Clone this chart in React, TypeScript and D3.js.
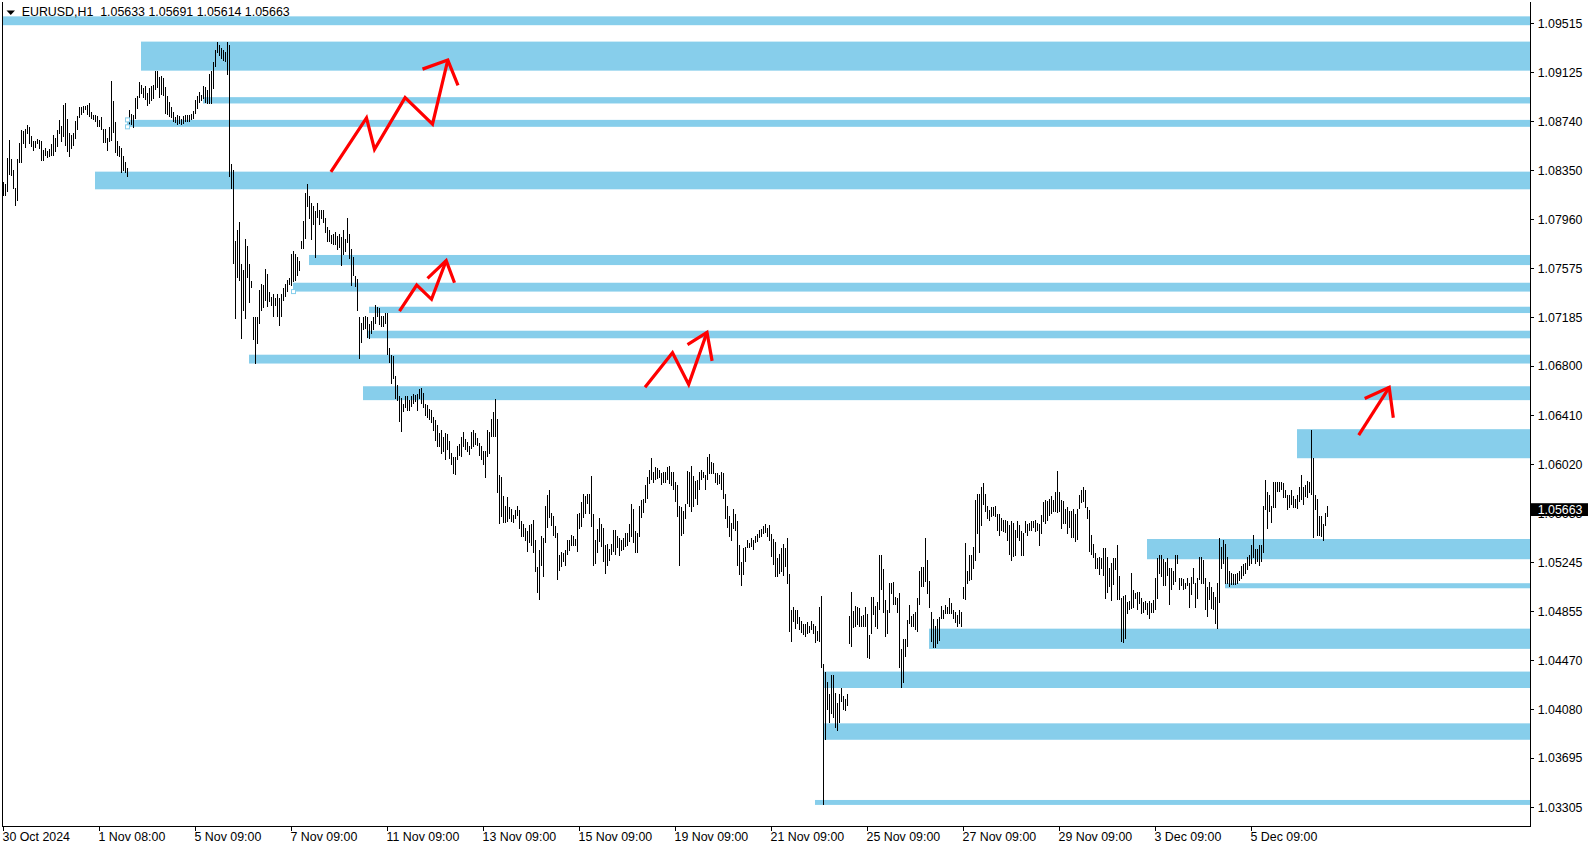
import React from "react";
import * as d3 from "d3";

const W = 1594;
const H = 850;

// Hourly bars, values in pips above 1.0000 (price = 1 + pips / 10000)
const barHighs = [
  826,824,845,859,844,835,821,844,857,867,
  866,868,871,869,862,858,858,860,859,858,
  851,853,850,852,856,863,861,867,875,870,
  887,888,876,865,863,865,874,878,885,885,
  886,886,887,888,881,879,879,878,875,877,
  868,868,861,869,906,890,873,858,854,853,
  846,842,837,883,880,879,892,894,905,903,
  900,902,896,900,902,903,914,914,909,910,
  908,901,894,889,885,881,877,879,878,876,
  878,879,879,879,880,882,891,894,897,895,
  902,901,899,911,914,921,930,937,934,932,
  930,929,937,934,840,835,779,788,794,761,
  756,781,775,761,747,719,719,719,740,745,
  744,757,753,739,735,737,734,737,734,737,
  742,745,748,750,769,771,769,766,763,779,
  795,817,824,815,809,807,803,809,804,804,
  804,797,790,788,784,785,786,783,785,782,
  788,781,797,785,773,766,751,749,719,714,
  719,720,719,713,716,719,728,727,726,720,
  720,722,722,694,689,688,672,665,656,655,
  650,656,656,653,656,658,657,658,662,663,
  659,650,649,646,645,640,637,633,627,629,
  624,627,626,621,611,608,608,617,618,624,
  628,622,620,617,628,629,627,623,619,617,
  613,613,629,628,638,644,654,638,594,592,
  577,569,576,568,567,562,566,569,566,557,
  555,552,549,554,555,558,542,521,534,545,
  544,569,578,582,564,561,553,548,530,533,
  532,534,542,542,546,545,543,563,564,572,
  579,577,579,579,593,563,542,551,560,555,
  552,538,539,535,539,550,550,545,544,542,
  544,548,548,555,571,567,549,548,569,574,
  575,586,592,598,607,596,600,599,598,595,
  596,596,600,601,596,596,588,586,569,568,
  565,571,597,596,601,593,589,590,596,598,
  596,594,608,610,604,603,595,595,594,596,
  595,579,569,561,556,567,563,557,538,525,
  536,537,542,540,544,542,545,547,550,551,
  553,555,552,554,547,543,541,528,531,536,
  539,536,544,515,487,489,487,487,481,478,
  476,476,477,474,478,476,474,470,489,498,
  444,438,430,420,435,435,421,413,420,425,
  419,416,420,482,501,486,490,489,488,482,
  483,489,484,467,497,497,490,493,530,530,
  519,495,487,508,508,509,497,496,500,456,
  464,464,479,491,482,484,485,496,518,521,
  521,544,526,510,485,480,474,480,481,490,
  487,491,489,496,492,487,485,483,487,485,
  505,540,518,530,530,537,574,579,579,584,
  587,579,569,566,568,568,569,563,563,560,
  558,558,557,554,557,556,550,557,554,549,
  548,557,555,556,557,557,558,556,555,562,
  572,574,573,575,577,574,580,597,580,574,
  573,567,568,565,565,567,563,567,578,582,
  584,582,568,566,546,539,532,528,529,528,
  536,536,529,520,524,528,528,538,514,496,
  498,499,493,494,516,503,500,501,501,496,
  493,494,492,494,492,495,512,528,530,530,
  527,525,528,520,520,518,530,530,512,512,
  511,508,512,508,513,520,508,512,529,529,
  526,512,505,509,505,501,497,508,544,537,
  542,539,529,518,516,515,515,516,518,522,
  523,524,529,530,538,546,535,535,538,538,
  569,590,580,578,569,588,588,588,588,588,
  587,582,578,578,582,577,575,578,584,594,
  584,586,589,588,629,607,578,575,561,561,
  555,564,569,
];

const barLows = [
  815,815,818,832,831,821,807,811,841,841,
  856,853,864,856,854,851,853,856,852,843,
  843,847,845,846,847,847,850,854,864,858,
  862,855,850,846,852,855,860,867,877,879,
  881,883,879,878,876,875,874,870,870,867,
  857,857,851,858,859,865,849,847,846,833,
  835,833,830,870,871,869,876,884,893,896,
  893,891,886,888,890,892,899,901,893,895,
  894,880,879,878,877,874,873,871,872,871,
  872,874,874,874,875,876,880,884,889,890,
  892,889,888,888,888,900,917,928,926,924,
  922,921,911,830,821,761,718,750,748,702,
  724,718,750,730,742,701,682,698,714,724,
  726,732,727,731,728,719,728,719,712,719,
  732,735,739,745,744,747,748,752,756,773,
  773,781,806,797,780,792,766,798,792,797,
  794,786,779,779,777,776,776,772,774,760,
  768,771,778,765,744,752,743,724,686,699,
  709,710,703,702,706,709,714,719,713,711,
  711,714,689,683,666,670,654,653,636,628,
  644,647,645,645,648,650,652,645,654,650,
  647,641,639,638,635,629,621,616,616,611,
  612,606,614,607,602,595,594,606,609,608,
  616,614,612,610,615,616,618,617,609,606,
  602,592,608,611,624,624,624,580,555,561,
  556,556,557,559,557,556,559,562,551,545,
  545,542,533,540,538,532,517,501,495,522,
  513,540,552,560,554,546,544,511,518,521,
  525,522,531,534,538,538,538,533,551,553,
  560,563,571,563,553,522,524,532,541,537,
  525,516,522,526,531,533,531,536,530,534,
  535,537,538,541,545,540,532,532,545,560,
  564,572,575,587,590,588,590,591,592,586,
  588,588,590,587,585,582,573,561,522,546,
  547,559,571,569,565,569,575,570,582,590,
  592,582,590,595,595,595,588,586,587,582,
  575,559,552,545,542,551,550,522,515,506,
  515,525,536,536,537,535,540,541,544,545,
  547,548,545,542,529,523,513,513,516,517,
  514,521,508,470,462,478,472,476,471,469,
  467,466,468,469,471,468,461,463,462,441,
  333,384,408,398,405,402,394,391,398,414,
  408,407,411,460,458,473,474,475,474,474,
  474,474,449,448,468,483,474,472,487,503,
  485,466,468,485,500,491,491,485,441,425,
  429,450,458,476,474,474,471,470,491,505,
  505,509,500,489,462,457,457,460,463,480,
  480,484,484,484,484,480,477,474,476,474,
  496,495,508,510,511,520,526,547,532,554,
  570,565,559,558,561,562,561,550,546,550,
  549,548,542,531,526,529,530,544,542,530,
  530,548,546,550,550,552,549,550,538,547,
  557,555,558,562,563,565,565,564,565,551,
  555,555,547,552,544,544,541,543,567,572,
  573,568,559,533,531,528,520,520,515,520,
  514,496,501,505,494,507,519,495,495,462,
  461,464,484,487,488,489,496,487,492,484,
  485,487,483,480,485,485,487,496,516,513,
  506,506,514,491,503,507,509,524,503,506,
  503,504,506,489,499,508,489,496,511,508,
  508,487,482,495,488,487,476,472,493,520,
  524,508,508,505,507,507,507,508,510,512,
  514,516,519,522,524,528,524,525,522,525,
  532,566,551,565,556,568,568,581,581,582,
  576,576,566,568,570,568,568,567,573,574,
  570,577,576,580,578,544,566,546,546,545,
  542,554,561,
];

const symbolTitle = "EURUSD,H1";
const lastBarOHLC = [1.05633, 1.05691, 1.05614, 1.05663];
const lastPrice = 1.05663;

const yTickValues = [
  1.09515, 1.09125, 1.0874, 1.0835, 1.0796, 1.07575, 1.07185, 1.068, 1.0641,
  1.0602, 1.05635, 1.05245, 1.04855, 1.0447, 1.0408, 1.03695, 1.03305,
];

const xTickBars = [0, 48, 96, 144, 192, 240, 288, 336, 384, 432, 480, 528, 576, 624];
const xTickLabels = [
  "30 Oct 2024", "1 Nov 08:00", "5 Nov 09:00", "7 Nov 09:00", "11 Nov 09:00",
  "13 Nov 09:00", "15 Nov 09:00", "19 Nov 09:00", "21 Nov 09:00", "25 Nov 09:00",
  "27 Nov 09:00", "29 Nov 09:00", "3 Dec 09:00", "5 Dec 09:00",
];

// Supply / demand zones (start bar, top and bottom in pips above 1.0000)
const zoneStartBars = [0, 69, 100, 62, 46, 153, 145, 183, 182, 123, 180, 647, 572, 611, 463, 410, 410, 406];
const zoneTopPips = [957, 937, 893, 875, 834, 768, 746, 727, 708, 689, 664, 630, 543, 508, 472, 438, 397, 336.3];
const zoneBottomPips = [950, 914, 888, 869.5, 820, 760, 739, 722, 702, 682, 653, 607, 527, 504, 456, 425, 384, 332.4];

// Anchor squares: zone index and corner
const anchorZones = [3, 3, 6];
const anchorCorners = ["top", "bottom", "bottom"];

// Red arrows: polyline [bar, pips] and arrow head barbs
const arrow1 = [[163.7, 833.9], [181.5, 876.6], [185.5, 851.6], [200.8, 892.6], [214.5, 871.7], [222.15, 922.4]];
const arrow1Head = [[209.5, 915.2], [222.15, 922.4], [227.25, 902.3]];
const arrow2 = [[198, 723.6], [206.6, 744.2], [214, 732.9], [221.35, 763.5]];
const arrow2Head = [[212, 749.5], [221.35, 763.5], [225.5, 746.0]];
const arrow3 = [[320.75, 663.2], [334.5, 690.5], [342.6, 665.5], [351.75, 706.7]];
const arrow3Head = [[342, 697.0], [351.75, 706.7], [354.3, 684.1]];
const arrow4 = [[677.6, 625.3], [692.85, 663.2]];
const arrow4Head = [[680.6, 654.3], [692.85, 663.2], [694.9, 639.0]];

const FONT = "'Liberation Sans', Arial, sans-serif";
const ZONE = "#87CEEB";
const FS = 12.4;

export default function App() {
  const n = barHighs.length;
  const plotRight = 1530.5;
  const plotBottom = 826.5;
  const x = d3.scaleLinear().domain([0, n - 1]).range([3.5, 3.5 + 2 * (n - 1)]);
  const y = d3.scaleLinear().domain([1.03305, 1.09515]).range([807.3, 23.3]);
  const pp = (pips: number) => 1 + pips / 10000;

  const line = d3
    .line<number[]>()
    .x((d) => x(d[0]))
    .y((d) => y(pp(d[1])));

  const arrows = [
    [arrow1, arrow1Head],
    [arrow2, arrow2Head],
    [arrow3, arrow3Head],
    [arrow4, arrow4Head],
  ];

  const titleText = `${symbolTitle}  ${lastBarOHLC.map((v) => v.toFixed(5)).join(" ")}`;
  const lastY = y(lastPrice);

  return (
    <svg
      width={W}
      height={H}
      style={{ position: "absolute", left: 0, top: 0, background: "#fff" }}
      fontFamily={FONT}
    >
      <rect x={0} y={0} width={W} height={H} fill="#fff" />
      <defs>
        <clipPath id="plot">
          <rect x={2.5} y={0} width={plotRight - 2.5} height={plotBottom} />
        </clipPath>
      </defs>

      {/* zones */}
      <g clipPath="url(#plot)">
        {zoneStartBars.map((s, i) => {
          const x0 = x(s) - 0.5;
          const yt = y(pp(zoneTopPips[i]));
          const yb = y(pp(zoneBottomPips[i]));
          return <rect key={i} x={x0} y={yt} width={plotRight - x0} height={yb - yt} fill={ZONE} />;
        })}
      </g>

      {/* bars */}
      <g stroke="#000" strokeWidth={1} shapeRendering="crispEdges">
        {barHighs.map((h, i) => (
          <line key={i} x1={x(i)} x2={x(i)} y1={y(pp(h))} y2={y(pp(barLows[i])) + 0.5} />
        ))}
      </g>

      {/* anchors */}
      {anchorZones.map((z, i) => {
        const cx = x(zoneStartBars[z]);
        const cy = y(pp(anchorCorners[i] === "top" ? zoneTopPips[z] : zoneBottomPips[z]));
        return (
          <rect key={i} x={cx - 2} y={cy - 2} width={4} height={4} fill="#fff" stroke={ZONE} strokeWidth={1} />
        );
      })}

      {/* red arrows */}
      <g fill="none" stroke="#ff0000" strokeWidth={3.2} strokeLinejoin="miter" strokeLinecap="butt">
        {arrows.map(([body, head], i) => (
          <g key={i}>
            <path d={line(body as number[][]) || ""} />
            <path d={line(head as number[][]) || ""} />
          </g>
        ))}
      </g>

      {/* frame */}
      <g stroke="#000" strokeWidth={1} shapeRendering="crispEdges">
        <line x1={2.5} x2={2.5} y1={2} y2={plotBottom} />
        <line x1={plotRight} x2={plotRight} y1={2} y2={plotBottom} />
        <line x1={2.5} x2={plotRight} y1={plotBottom} y2={plotBottom} />
      </g>

      {/* y axis */}
      <g fontSize={FS} fill="#000">
        {yTickValues.map((v, i) => {
          const ty = y(v);
          return (
            <g key={i}>
              <line x1={plotRight} x2={plotRight + 3.5} y1={ty} y2={ty} stroke="#000" shapeRendering="crispEdges" />
              <text x={1537.7} y={ty + 4.4}>{v.toFixed(5)}</text>
            </g>
          );
        })}
      </g>

      {/* current price label (covers the tick label beneath it, as in the terminal) */}
      <rect x={1531} y={lastY - 6.4} width={57} height={12.8} fill="#000" />
      <text x={1537.7} y={lastY + 4.4} fontSize={FS} fill="#fff">{lastPrice.toFixed(5)}</text>

      {/* x axis */}
      <g fontSize={FS} fill="#000">
        {xTickBars.map((b, i) => (
          <g key={i}>
            <line x1={x(b)} x2={x(b)} y1={plotBottom} y2={plotBottom + 4} stroke="#000" shapeRendering="crispEdges" />
            <text x={x(b) - 1} y={841}>{xTickLabels[i]}</text>
          </g>
        ))}
      </g>

      {/* title */}
      <path d="M6.5,10.5 L15,10.5 L10.75,15 Z" fill="#000" />
      <text x={21.7} y={16} fontSize={FS} fill="#000" style={{ whiteSpace: "pre" }}>
        {titleText}
      </text>
    </svg>
  );
}
